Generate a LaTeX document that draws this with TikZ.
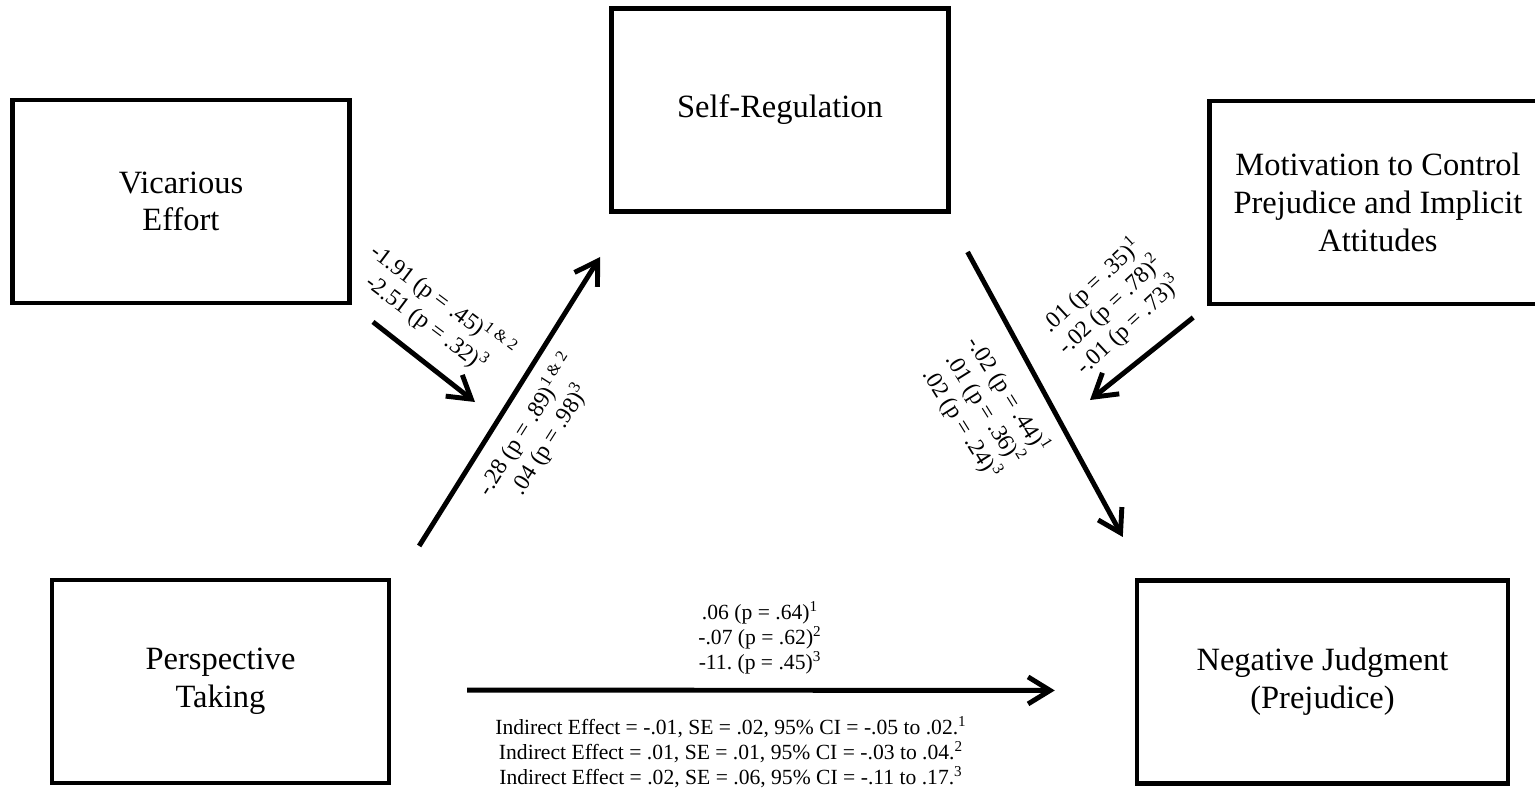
\documentclass[tikz,border=0pt]{standalone}
\usepackage{fontspec}
\setmainfont{Liberation Serif}
\usetikzlibrary{arrows.meta}
\frenchspacing

\begin{document}
\begin{tikzpicture}[x=0.02cm, y=-0.02cm, line width=2.8pt,
	main/.style = {draw, line width=2.6pt, minimum width=6.74cm, minimum height=4.06cm, align=center, font=\fontsize{18.5}{21.5}\selectfont},
	coef/.style = {align=center, inner sep=0pt, font=\fontsize{12.3}{14.2}\selectfont},
	tilt/.style = {coef, font=\fontsize{13.3}{15.5}\selectfont},
	arr/.style = {-{Straight Barb[length=0.44cm, width=0.54cm]}}]
		\useasboundingbox (0,0) rectangle (1535,791);
		\node[main] (1) at (220.5,681.5) {Perspective\\Taking};
		\node[main] (2) at (181,201.5) {Vicarious\\Effort};
		\node[main] (3) at (780,110) {Self-Regulation};
		\node[main] (4) at (1378,202.5) {Motivation to Control\\Prejudice and Implicit\\Attitudes};
		\node[main, minimum width=7.42cm] (5) at (1322.5,682) {Negative Judgment\\(Prejudice)};
		\coordinate (v) at (475,402);
		\coordinate (m) at (1090,400);
		\draw[arr, shorten <=0.75cm, shorten >=1.02cm] ([xshift=0.16cm]1.north east) -- ([xshift=0.36cm]3.south west);
		\draw[arr, shorten <=0.87cm, shorten >=0.94cm] ([xshift=-0.08cm]3.south east) -- ([xshift=0.21cm]5.north west);
		\draw[arr, shorten <=0.54cm] (2.south east) -- (v);
		\draw[arr, shorten <=0.36cm] (4.south west) -- (m);
		\draw[arr, shorten <=1.52cm, shorten >=1.6cm] ([yshift=-0.17cm]1.east) --
			node[coef, above=0.28cm, xshift=-0.06cm] {.06 (p = .64)\textsuperscript{1}\\-.07 (p = .62)\textsuperscript{2}\\-11. (p = .45)\textsuperscript{3}}
			node[coef, below=0.48cm, xshift=-0.64cm] {Indirect Effect = -.01, SE = .02, 95\% CI = -.05 to .02.\textsuperscript{1}\\Indirect Effect = .01, SE = .01, 95\% CI = -.03 to .04.\textsuperscript{2}\\Indirect Effect = .02, SE = .06, 95\% CI = -.11 to .17.\textsuperscript{3}}
			([yshift=-0.17cm]5.west);
		\node[tilt, rotate=-37] (l1) at (435,312) {-1.91 (p = .45)\textsuperscript{1 \& 2}\\-2.51 (p = .32)\textsuperscript{3}};
		\node[tilt, rotate=57.6] (l2) at (538,432) {-.28 (p = .89)\textsuperscript{1 \& 2}\\.04 (p = .98)\textsuperscript{3}};
		\node[tilt, rotate=-58] (l3) at (985,409) {-.02 (p = .44)\textsuperscript{1}\\.01 (p = .36)\textsuperscript{2}\\.02 (p = .24)\textsuperscript{3}};
		\node[tilt, rotate=43] (l4) at (1110,305) {.01 (p = .35)\textsuperscript{1}\\-.02 (p = .78)\textsuperscript{2}\\-.01 (p = .73)\textsuperscript{3}};
\end{tikzpicture}
\end{document}
